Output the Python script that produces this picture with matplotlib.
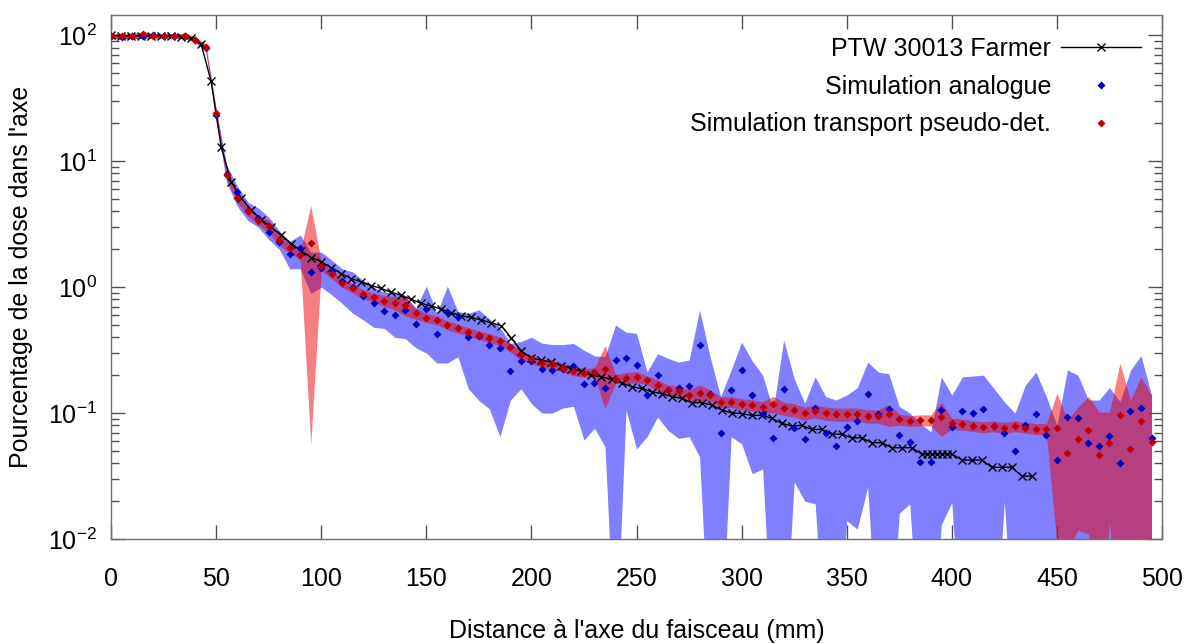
import numpy as np
import matplotlib
matplotlib.use('Agg')
import matplotlib.pyplot as plt
from matplotlib.ticker import NullLocator

# positions (mm)
sim_x = np.arange(0, 500, 5)
det_step = 100 / 21
det_x = np.r_[np.arange(82) * det_step,
              [388.1, 390.5, 392.9, 395.2, 397.6, 400.0],
              np.arange(85, 93) * det_step]

# PTW 30013 Farmer measurement
det_y = [100, 99, 99, 99.5, 99, 99, 98.5, 97.5, 95, 85,
         43, 13, 6.9, 5.1, 4.1, 3.44, 3.0, 2.59, 2.22, 1.94,
         1.72, 1.59, 1.43, 1.28, 1.17, 1.10, 1.03, 0.977, 0.908, 0.865,
         0.80, 0.743, 0.707, 0.669, 0.625, 0.592, 0.575, 0.547, 0.521, 0.493,
         0.392, 0.312, 0.272, 0.264, 0.253, 0.238, 0.226, 0.215, 0.199, 0.194,
         0.185, 0.174, 0.162, 0.157, 0.148, 0.143, 0.135, 0.131, 0.121, 0.121,
         0.116, 0.106, 0.1005, 0.099, 0.096, 0.096, 0.091, 0.083, 0.079, 0.080,
         0.0742, 0.0742, 0.068, 0.068, 0.0637, 0.0637, 0.0582, 0.0582, 0.0531, 0.0531,
         0.0531, 0.0473,
         0.0473, 0.0473, 0.0473, 0.0473, 0.0473, 0.0473,
         0.0424, 0.0424, 0.0424, 0.0371, 0.0371, 0.0371, 0.0316, 0.0316]

# simulation analogue: value and band
blue_val = [99, 97, 99, 98, 100, 98.5, 99, 98, 92, 80,
            23.5, 7.9, 5.7, 4.04, 3.57, 2.75, 2.3, 1.83, 2.03, 1.32,
            1.41, 1.38, 1.12, 0.995, 0.849, 0.743, 0.648, 0.600, 0.657, 0.508,
            0.665, 0.424, 0.637, 0.575, 0.399, 0.41, 0.347, 0.326, 0.215, 0.26,
            0.26, 0.226, 0.219, 0.222, 0.236, 0.17, 0.172, 0.159, 0.264, 0.272,
            0.240, 0.139, 0.20, 0.152, 0.157, 0.163, 0.347, 0.142, 0.069, 0.152,
            0.219, 0.139, 0.0982, 0.063, 0.154, 0.0756, 0.0618, 0.109, 0.0698, 0.0551,
            0.0778, 0.0869, 0.143, 0.098, 0.107, 0.0669, 0.0592, 0.0406, 0.0406, 0.106,
            0.077, 0.104, 0.101, 0.108, 0.079, 0.069, 0.0502, 0.080, 0.0977, 0.0666,
            0.0424, 0.0924, 0.092, 0.058, 0.0551, 0.0653, 0.0399, 0.103, 0.110, 0.0633]
blue_hi = [103, 101, 103, 102, 104, 102, 103, 102, 96, 84,
           26, 9.2, 6.4, 4.75, 4.25, 3.6, 2.8, 2.3, 2.6, 1.9,
           1.9, 1.64, 1.4, 1.32, 1.13, 1.0, 0.91, 0.9, 0.84, 0.68,
           1.02, 0.62, 1.02, 0.64, 0.62, 0.66, 0.56, 0.48, 0.357, 0.37,
           0.40, 0.36, 0.35, 0.35, 0.357, 0.316, 0.285, 0.28, 0.50, 0.44,
           0.43, 0.212, 0.296, 0.272, 0.254, 0.264, 0.658, 0.28, 0.135, 0.22,
           0.366, 0.26, 0.2, 0.106, 0.38, 0.188, 0.12, 0.194, 0.135, 0.127,
           0.139, 0.159, 0.254, 0.212, 0.205, 0.113, 0.1, 0.083, 0.071, 0.194,
           0.139, 0.194, 0.197, 0.20, 0.157, 0.123, 0.1, 0.167, 0.212, 0.135,
           0.08, 0.22, 0.20, 0.127, 0.127, 0.159, 0.123, 0.219, 0.286, 0.139]
blue_lo = [95, 93, 95, 94, 96, 95, 95, 94, 88, 76,
           21, 6.8, 4.4, 3.4, 3.0, 2.4, 2.0, 1.4, 1.4, 0.89,
           1.0, 0.87, 0.74, 0.62, 0.55, 0.48, 0.47, 0.40, 0.39, 0.33,
           0.30, 0.25, 0.25, 0.28, 0.156, 0.126, 0.108, 0.065, 0.127, 0.156,
           0.119, 0.10, 0.10, 0.11, 0.113, 0.061, 0.076, 0.054, 0.001, 0.106,
           0.052, 0.065, 0.093, 0.073, 0.063, 0.065, 0.045, 0.001, 0.001, 0.065,
           0.057, 0.033, 0.036, 0.001, 0.001, 0.0285, 0.02, 0.019, 0.001, 0.001,
           0.014, 0.012, 0.026, 0.001, 0.001, 0.016, 0.019, 0.001, 0.001, 0.013,
           0.0195, 0.001, 0.001, 0.001, 0.001, 0.02, 0.001, 0.001, 0.001, 0.001,
           0.001, 0.001, 0.001, 0.001, 0.001, 0.001, 0.001, 0.001, 0.001, 0.001]

# simulation transport pseudo-det.: value and relative error
red_val = [98.4, 99, 98.4, 101.7, 98.4, 99, 98.4, 99.6, 92.6, 80.7,
           24.2, 7.8, 5.1, 4.0, 3.4, 3.05, 2.39, 2.03, 1.79, 2.26,
           1.47, 1.27, 1.08, 0.977, 0.879, 0.828, 0.778, 0.75, 0.719, 0.618,
           0.571, 0.547, 0.499, 0.47, 0.442, 0.416, 0.396, 0.373, 0.332, 0.288,
           0.268, 0.251, 0.245, 0.230, 0.215, 0.209, 0.212, 0.226, 0.188, 0.191,
           0.194, 0.183, 0.167, 0.152, 0.150, 0.139, 0.145, 0.139, 0.123, 0.123,
           0.118, 0.116, 0.112, 0.118, 0.109, 0.106, 0.0995, 0.104, 0.0995, 0.0977,
           0.098, 0.098, 0.0946, 0.0946, 0.0977, 0.0891, 0.0869, 0.088, 0.088, 0.0935,
           0.0828, 0.0814, 0.0793, 0.0777, 0.079, 0.0765, 0.079, 0.0768, 0.0751, 0.0751,
           0.0765, 0.0484, 0.0618, 0.0733, 0.0467, 0.0581, 0.0964, 0.0515, 0.0869, 0.0589]
red_rel = [0.05, 0.05, 0.05, 0.05, 0.05, 0.05, 0.05, 0.05, 0.05, 0.06,
           0.08, 0.08, 0.08, 0.08, 0.08, 0.12, 0.10, 0.08, 0.08, 0.975,
           0.08, 0.08, 0.08, 0.08, 0.08, 0.08, 0.10, 0.12, 0.18, 0.10,
           0.08, 0.08, 0.08, 0.08, 0.08, 0.08, 0.08, 0.08, 0.08, 0.08,
           0.08, 0.08, 0.08, 0.08, 0.08, 0.08, 0.08, 0.52, 0.08, 0.10,
           0.10, 0.08, 0.10, 0.10, 0.10, 0.10, 0.15, 0.10, 0.10, 0.10,
           0.10, 0.10, 0.10, 0.15, 0.12, 0.12, 0.12, 0.12, 0.12, 0.12,
           0.12, 0.12, 0.12, 0.12, 0.20, 0.10, 0.10, 0.10, 0.10, 0.30,
           0.10, 0.10, 0.10, 0.10, 0.10, 0.10, 0.10, 0.10, 0.10, 0.10,
           0.88, 0.83, 0.81, 0.85, 1.18, 0.76, 1.58, 1.46, 1.23, 1.36]

plt.rcParams['font.family'] = ['Liberation Sans', 'DejaVu Sans']
plt.rcParams['mathtext.fontset'] = 'custom'
plt.rcParams['mathtext.rm'] = 'Liberation Sans'
plt.rcParams['mathtext.it'] = 'Liberation Sans:italic'
plt.rcParams['axes.unicode_minus'] = False
plt.rcParams['font.size'] = 18

fig = plt.figure(figsize=(11.89, 6.44), dpi=100)
ax = fig.add_axes([0.0934, 0.1630, 0.8839, 0.8137])

red_val = np.array(red_val)
red_rel = np.array(red_rel)
red_lo = np.clip(red_val * (1 - red_rel), 1e-3, None)
red_hi = red_val * (1 + red_rel)

ax.fill_between(sim_x, blue_lo, blue_hi, color='#0000ff', alpha=0.5, lw=0, zorder=1)
ax.fill_between(sim_x, red_lo, red_hi, color='#ee0000', alpha=0.5, lw=0, zorder=2)

h_det, = ax.plot(det_x, det_y, color='black', lw=1, marker='x', ms=5.5, mew=1, zorder=3)
h_blue, = ax.plot(sim_x, blue_val, ls='none', marker='D', ms=4.3, color='#0000c0',
                  mec='none', zorder=4)
h_red, = ax.plot(sim_x, red_val, ls='none', marker='D', ms=4.3, color='#c00000',
                 mec='none', zorder=5)

ax.set_yscale('log')
ax.set_xlim(0, 500)
ax.set_ylim(0.01, 145)
ax.set_xticks(range(0, 501, 50))
ax.xaxis.set_minor_locator(NullLocator())

ax.tick_params(which='both', direction='in', top=True, right=True, color='#505050', width=1)
ax.tick_params(which='major', length=10)
ax.tick_params(which='minor', length=5.5)
ax.tick_params(axis='x', pad=20)
ax.tick_params(axis='y', pad=10)
for s in ax.spines.values():
    s.set_color('#707070')
    s.set_linewidth(1)

ax.set_xlabel("Distance à l'axe du faisceau (mm)", labelpad=20)
ax.set_ylabel("Pourcentage de la dose dans l'axe", labelpad=11)

ax.legend([h_det, h_blue, h_red],
          ['PTW 30013 Farmer', 'Simulation analogue', 'Simulation transport pseudo-det.'],
          loc='upper right', bbox_to_anchor=(1141 / 1189, 1 - 37 / 644),
          bbox_transform=fig.transFigure, frameon=False, markerfirst=False,
          numpoints=1, handlelength=3.2, handletextpad=0.4, labelspacing=0.55,
          borderpad=0, borderaxespad=0)

fig.savefig('out.png', dpi=100)
